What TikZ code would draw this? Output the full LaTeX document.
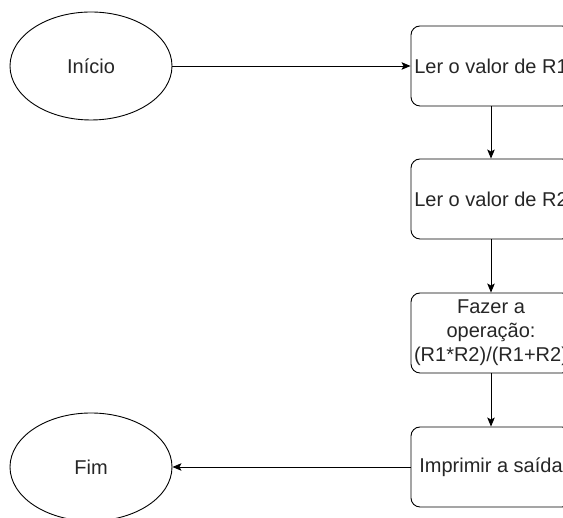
\documentclass[tikz,border=0pt]{standalone}
\usepackage{fontspec}
\setmainfont{Liberation Sans}
\usetikzlibrary{shapes.geometric,arrows.meta}
\begin{document}
\begin{tikzpicture}[x=1pt,y=1pt,
  every node/.style={font=\fontsize{20}{24}\selectfont, text=black!85},
  terminal/.style={ellipse, draw, line width=0.9pt, minimum width=162pt, minimum height=108pt, inner sep=0pt},
  stepbox/.style={rectangle, rounded corners=9pt, draw, line width=0.9pt, minimum width=160pt, minimum height=80pt, inner sep=0pt, align=center},
  flow/.style={line width=0.9pt, -{Stealth[length=9pt,width=7.5pt,inset=2pt]}}]
  \clip (0,0) rectangle (563,518);
  \fill[white] (0,0) rectangle (563,518);
  % start and end terminals
  \node[terminal] (inicio) at (91,452) {Início};
  \node[terminal] (fim) at (91,51) {Fim};
  % processing steps
  \node[stepbox] (r1) at (491,452) {Ler o valor de R1};
  \node[stepbox] (r2) at (491,319) {Ler o valor de R2};
  \node[stepbox] (op) at (491,185) {Fazer a\\operação:\\(R1*R2)/(R1+R2)};
  \node[stepbox] (out) at (491,51) {Imprimir a saída};
  % connectors
  \draw[flow] (inicio) -- (r1);
  \draw[flow] (r1) -- (r2);
  \draw[flow] (r2) -- (op);
  \draw[flow] (op) -- (out);
  \draw[flow] (out) -- (fim);
\end{tikzpicture}
\end{document}
